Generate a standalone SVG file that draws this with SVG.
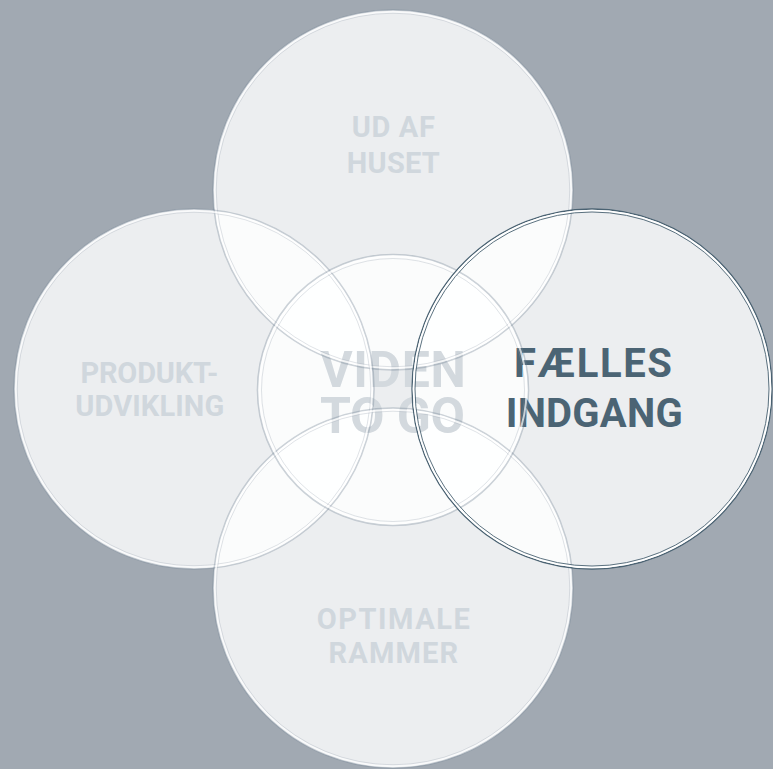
<svg xmlns="http://www.w3.org/2000/svg" width="773" height="769" viewBox="0 0 773 769">
<style>
.fill{fill:#ffffff;fill-opacity:0.8;stroke:none}
.ring{fill:none;stroke:#6f8193;stroke-opacity:0.35;stroke-width:1.6}
.gap{fill:none;stroke:#ffffff;stroke-opacity:0.7;stroke-width:2}
.inner{fill:none;stroke:#8b99a6;stroke-opacity:0.3;stroke-width:0.9}
.actring{fill:none;stroke:#4a6272;stroke-width:1.3}
.actgap{fill:none;stroke:#ffffff;stroke-width:1.8}
.actin{fill:none;stroke:#4a6272;stroke-width:0.9}
.lbl{font-family:Roboto,"Liberation Sans",sans-serif;font-weight:700;text-anchor:middle;fill:#d0d7dd}
.small{font-size:29px}
.big{font-size:50px;fill:#d3d9de}
.hl{font-size:40px;fill:#4b6474}
</style>
<rect width="773" height="769" fill="#a1a9b2"/>
<g id="fills">
<circle class="fill" cx="393" cy="190" r="180"/>
<circle class="fill" cx="194" cy="389" r="180"/>
<circle class="fill" cx="393" cy="588" r="180"/>
<circle class="fill" cx="393" cy="390" r="135.5"/>
<circle class="fill" cx="592" cy="389" r="180"/>
</g>
<g id="labels">
<text class="lbl small" x="393.3" y="137" textLength="83" lengthAdjust="spacing">UD AF</text>
<text class="lbl small" x="393.3" y="172.5" textLength="93" lengthAdjust="spacing">HUSET</text>
<text class="lbl small" x="149.5" y="382.5" textLength="138" lengthAdjust="spacing">PRODUKT-</text>
<text class="lbl small" x="149.7" y="416" textLength="149" lengthAdjust="spacing">UDVIKLING</text>
<text class="lbl small" x="393.3" y="629" textLength="153" lengthAdjust="spacing">OPTIMALE</text>
<text class="lbl small" x="393.3" y="662.5" textLength="129.5" lengthAdjust="spacing">RAMMER</text>
<text class="lbl big" x="392.9" y="386.5" textLength="146" lengthAdjust="spacing">VIDEN</text>
<text class="lbl big" x="392.5" y="432.5" textLength="145" lengthAdjust="spacing">TO GO</text>
<text class="lbl hl" x="592.9" y="376.7" textLength="158" lengthAdjust="spacing">FÆLLES</text>
<text class="lbl hl" x="594.2" y="427.3" textLength="177" lengthAdjust="spacing">INDGANG</text>
</g>
<g id="node-top">
<circle class="ring" cx="393" cy="190" r="180"/>
<circle class="gap" cx="393" cy="190" r="178"/>
<circle class="inner" cx="393" cy="190" r="176.8"/>
</g>
<g id="node-left">
<circle class="ring" cx="194" cy="389" r="180"/>
<circle class="gap" cx="194" cy="389" r="178"/>
<circle class="inner" cx="194" cy="389" r="176.8"/>
</g>
<g id="node-bottom">
<circle class="ring" cx="393" cy="588" r="180"/>
<circle class="gap" cx="393" cy="588" r="178"/>
<circle class="inner" cx="393" cy="588" r="176.8"/>
</g>
<g id="node-center">
<circle class="ring" cx="393" cy="390" r="135.5"/>
<circle class="gap" cx="393" cy="390" r="133.5"/>
<circle class="inner" cx="393" cy="390" r="131.5"/>
</g>
<g id="node-right">
<circle class="actring" cx="592" cy="389" r="180"/>
<circle class="actgap" cx="592" cy="389" r="178.4"/>
<circle class="actin" cx="592" cy="389" r="177"/>
</g>
<g id="connectors"></g>
</svg>
